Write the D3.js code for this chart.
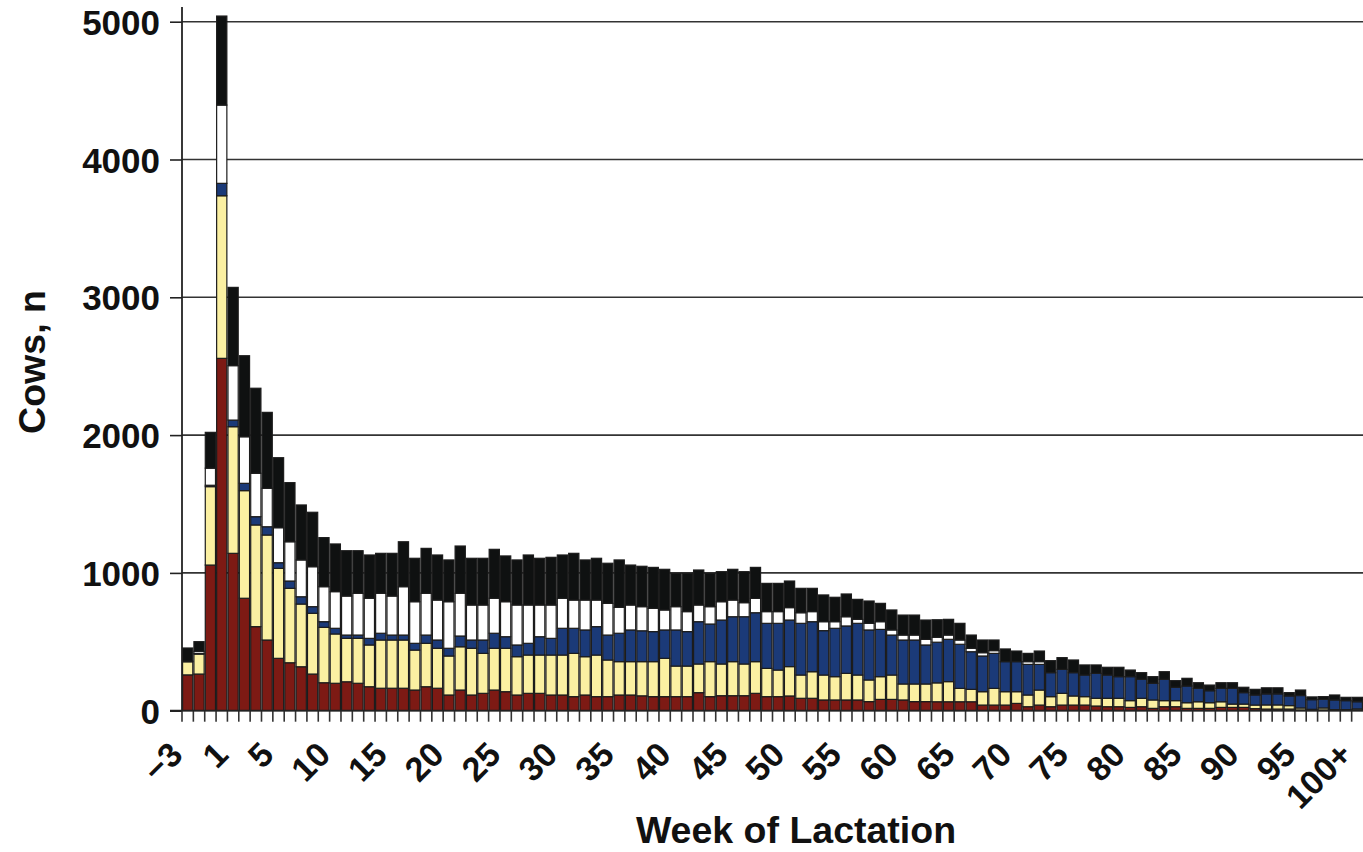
<!DOCTYPE html>
<html>
<head>
<meta charset="utf-8">
<script src="https://cdn.jsdelivr.net/npm/d3@7"></script>
<style>
  body { margin: 0; background: #fff; }
  svg text { font-family: "Liberation Sans", Arial, sans-serif; font-weight: bold; fill: #111; }
</style>
</head>
<body>
<div id="container"></div>
<script>
let w = 1363;
let h = 852;

// week categories: -3 .. 0, 1 .. 99, 100+
let weeks = ["\u22123", "\u22122", "\u22121", "0"];
for (let i = 1; i <= 99; i++) weeks.push(String(i));
weeks.push("100+");

let shownLabels = ["\u22123", "1", "5", "10", "15", "20", "25", "30", "35", "40", "45", "50",
  "55", "60", "65", "70", "75", "80", "85", "90", "95", "100+"];

let yTicks = [0, 1000, 2000, 3000, 4000, 5000];

// stacked series, bottom to top
let redSeries = [260, 266, 1057, 2557, 1142, 816, 610, 513, 380, 348, 319, 266, 203, 199, 210, 199,
  174, 163, 163, 163, 150, 174, 163, 114, 150, 114, 126, 150, 138, 114, 126, 126, 114, 114, 102, 114,
  102, 102, 114, 114, 108, 102, 102, 102, 102, 131, 102, 109, 109, 109, 126, 102, 102, 107, 90, 90,
  78, 78, 78, 78, 66, 82, 82, 78, 66, 66, 65, 65, 65, 65, 41, 41, 41, 53, 29, 41, 29, 41, 41, 41,
  34, 29, 29, 24, 29, 17, 29, 29, 17, 17, 17, 24, 24, 24, 15, 12, 12, 12, 5, 5, 5, 3, 3, 3];
let yellowSeries = [95, 145, 569, 1180, 919, 781, 738, 762, 653, 540, 455, 441, 402, 358, 315, 326,
  303, 350, 350, 350, 290, 315, 290, 283, 314, 339, 290, 303, 315, 278, 278, 278, 290, 290, 314, 278,
  302, 266, 242, 242, 248, 254, 278, 222, 222, 208, 254, 230, 247, 230, 230, 205, 193, 213, 169, 193,
  181, 169, 193, 181, 157, 165, 177, 116, 128, 128, 137, 146, 97, 90, 97, 121, 97, 85, 85, 109, 73,
  85, 66, 61, 56, 61, 61, 49, 61, 61, 44, 44, 41, 48, 41, 41, 24, 24, 26, 30, 30, 25, 15, 5, 15, 5,
  5, 10];
let blueSeries = [0, 5, 10, 90, 48, 53, 60, 60, 41, 53, 53, 48, 41, 41, 24, 24, 48, 49, 36, 36, 49,
  60, 60, 56, 78, 60, 97, 109, 84, 85, 85, 133, 121, 194, 182, 194, 206, 181, 206, 230, 224, 218,
  206, 262, 250, 307, 273, 319, 326, 343, 355, 327, 339, 338, 375, 363, 322, 351, 344, 375, 363, 343,
  290, 319, 319, 283, 295, 307, 320, 273, 259, 254, 218, 218, 222, 186, 174, 174, 169, 157, 181, 169,
  157, 174, 138, 121, 155, 97, 121, 97, 87, 97, 114, 83, 73, 80, 80, 70, 90, 70, 62, 70, 65, 52];
let whiteSeries = [5, 15, 124, 568, 395, 338, 315, 279, 254, 285, 267, 290, 254, 266, 283, 303, 291,
  290, 283, 351, 302, 303, 290, 338, 310, 254, 254, 254, 254, 290, 278, 230, 242, 218, 205, 217, 193,
  230, 188, 181, 175, 169, 145, 169, 145, 121, 126, 133, 121, 102, 104, 85, 85, 90, 77, 73, 65, 48,
  67, 29, 48, 56, 37, 36, 36, 41, 36, 31, 31, 25, 24, 20, 0, 0, 20, 20, 0, 0, 0, 0, 0, 0, 0, 0, 0,
  0, 0, 0, 0, 0, 0, 0, 0, 0, 0, 0, 0, 0, 0, 0, 0, 0, 0, 0];
let blackSeries = [95, 70, 260, 646, 568, 588, 617, 551, 508, 429, 399, 395, 356, 346, 329, 309, 314,
  290, 310, 326, 315, 326, 327, 303, 343, 339, 339, 355, 332, 327, 363, 339, 346, 314, 339, 291, 303,
  291, 344, 290, 293, 297, 295, 242, 278, 254, 242, 218, 223, 225, 225, 205, 205, 193, 177, 169, 194,
  177, 165, 145, 162, 133, 145, 145, 145, 140, 127, 114, 121, 96, 92, 77, 92, 77, 60, 77, 87, 85, 92,
  73, 61, 56, 68, 48, 48, 48, 55, 48, 56, 41, 41, 41, 41, 39, 41, 44, 44, 24, 40, 20, 20, 36, 24, 32];

let keys = ["red", "yellow", "blue", "white", "black"];
let colors = { red: "#7d1a14", yellow: "#fbf0a2", blue: "#1b3a78", white: "#ffffff", black: "#0f1111" };

let rows = weeks.map(function (d, i) {
  return { week: d, red: redSeries[i], yellow: yellowSeries[i], blue: blueSeries[i],
    white: whiteSeries[i], black: blackSeries[i] };
});

let left = 182;
let right = 1363;
let baseY = 710.7;
let topY = 21.7;

let viz = d3.select("#container")
  .append("svg")
  .attr("width", w)
  .attr("height", h);

let xScale = d3.scaleBand().domain(weeks).range([left, right]).paddingInner(0.1).paddingOuter(0.05);
let yScale = d3.scaleLinear().domain([0, 5000]).range([baseY, topY]);

// gridlines
viz.append("g").selectAll("line")
  .data(yTicks.filter(function (d) { return d > 0; }))
  .enter().append("line")
  .attr("x1", left).attr("x2", right)
  .attr("y1", function (d) { return yScale(d); })
  .attr("y2", function (d) { return yScale(d); })
  .attr("stroke", "#333").attr("stroke-width", 1.6);

// bars
let stacked = d3.stack().keys(keys)(rows);
viz.append("g").selectAll("g")
  .data(stacked)
  .enter().append("g")
  .attr("fill", function (d) { return colors[d.key]; })
  .selectAll("rect")
  .data(function (d) { return d; })
  .enter().append("rect")
  .attr("x", function (d) { return xScale(d.data.week); })
  .attr("width", xScale.bandwidth())
  .attr("y", function (d) { return yScale(d[1]); })
  .attr("height", function (d) { return Math.max(0, yScale(d[0]) - yScale(d[1])); })
  .attr("stroke", "#1c1c1c")
  .attr("stroke-width", 1.2);

// y axis
let yAxisGroup = viz.append("g").attr("class", "yaxis")
  .attr("transform", "translate(" + left + ",0)");
yAxisGroup.call(d3.axisLeft(yScale).tickValues(yTicks).tickFormat(d3.format("d")).tickSize(12).tickPadding(10));
yAxisGroup.select(".domain").remove();
yAxisGroup.selectAll(".tick line").attr("stroke", "#222").attr("stroke-width", 1.6);
yAxisGroup.selectAll(".tick text").attr("font-size", 35).attr("dy", "0.36em");
viz.append("line")
  .attr("x1", left).attr("x2", left).attr("y1", 7).attr("y2", baseY)
  .attr("stroke", "#222").attr("stroke-width", 1.8);

// x axis
let xAxisGroup = viz.append("g").attr("class", "xaxis")
  .attr("transform", "translate(0," + baseY + ")");
xAxisGroup.call(d3.axisBottom(xScale).tickSize(11)
  .tickFormat(function (d) { return shownLabels.indexOf(d) >= 0 ? d : ""; }));
xAxisGroup.select(".domain").remove();
xAxisGroup.selectAll(".tick line")
  .attr("x1", -xScale.step() / 2).attr("x2", -xScale.step() / 2)
  .attr("stroke", "#333").attr("stroke-width", 1.6);
xAxisGroup.selectAll(".tick text")
  .attr("font-size", 34)
  .attr("text-anchor", "end")
  .attr("x", 0).attr("y", 0).attr("dy", 0)
  .attr("transform", "translate(-3,46) rotate(-45)");
viz.append("line")
  .attr("x1", 170).attr("x2", right).attr("y1", baseY).attr("y2", baseY)
  .attr("stroke", "#222").attr("stroke-width", 1.8);

// axis titles
viz.append("text")
  .attr("x", 796).attr("y", 843)
  .attr("text-anchor", "middle")
  .attr("font-size", 37.5)
  .text("Week of Lactation");

viz.append("text")
  .attr("transform", "translate(45,362) rotate(-90)")
  .attr("text-anchor", "middle")
  .attr("font-size", 37.5)
  .text("Cows, n");
</script>
</body>
</html>
